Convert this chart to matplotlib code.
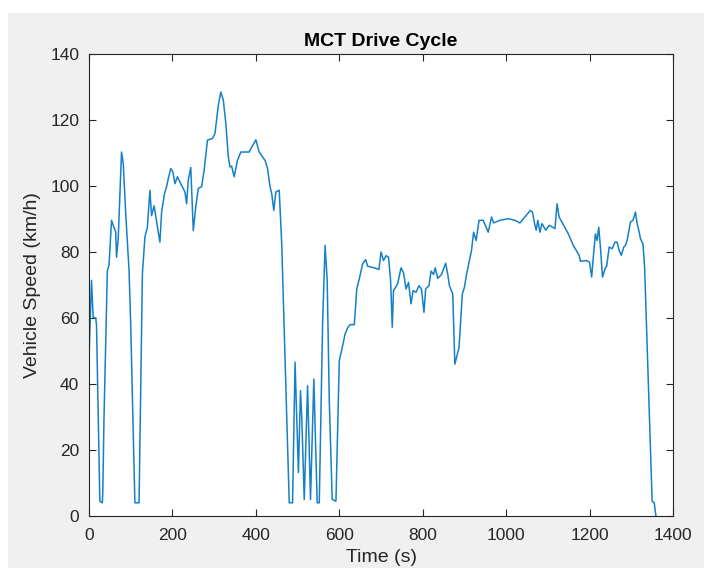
import matplotlib
matplotlib.use("Agg")
import matplotlib.pyplot as plt
from matplotlib.patches import Rectangle

# drive cycle samples (time in s, speed in km/h)
time_s = [0, 6, 10, 16, 18, 26, 32, 33, 36, 44, 48, 54, 64, 66, 70, 78, 82, 88, 96, 100,
          110, 120, 128, 134, 140, 146, 150, 156, 160, 166, 170, 174, 181, 186, 190, 196,
          201, 206, 212, 220, 230, 234, 238, 244, 250, 256, 262, 270, 276, 284, 296, 302,
          310, 316, 322, 328, 334, 338, 342, 348, 356, 364, 384, 388, 400, 408, 416, 422,
          428, 434, 438, 443, 448, 456, 462, 480, 488, 494, 502, 507, 510, 516, 524, 531,
          539, 547, 552, 560, 566, 571, 576, 583, 592, 600, 607, 614, 620, 626, 636, 642,
          648, 656, 663, 668, 684, 695, 700, 706, 712, 718, 723, 727, 730, 735, 740, 748,
          754, 760, 766, 772, 777, 784, 791, 797, 803, 807, 815, 820, 826, 830, 836, 845,
          855, 860, 864, 872, 877, 887, 895, 900, 905, 917, 922, 928, 935, 945, 957, 965,
          970, 985, 1005, 1021, 1033, 1045, 1058, 1063, 1069, 1072, 1076, 1081, 1086, 1095,
          1103, 1117, 1122, 1127, 1138, 1149, 1161, 1175, 1178, 1193, 1200, 1205, 1210,
          1214, 1218, 1222, 1226, 1231, 1238, 1241, 1247, 1254, 1261, 1266, 1271, 1276,
          1282, 1286, 1290, 1298, 1304, 1310, 1314, 1318, 1322, 1328, 1332, 1344, 1350,
          1355, 1359]
speed_kmh = [48, 71.4, 60.2, 60, 58, 4.5, 4, 7, 29.9, 74.4, 76, 89.6, 86, 78.4, 84, 110.3,
             107, 91.7, 74.4, 58, 4, 4, 73.4, 84.5, 87.5, 98.7, 91, 94, 91, 86, 83, 92,
             97.7, 99.8, 102.2, 105.3, 104.3, 100.7, 102.8, 100.7, 98.2, 94.6, 101.8, 105.6,
             86.5, 93.7, 99.3, 99.8, 104.8, 113.9, 114.4, 115.9, 124.5, 128.5, 126, 119,
             108.8, 105.8, 106, 102.8, 107.8, 110.3, 110.3, 111.3, 114, 110.3, 108.8, 107.8,
             105.3, 99.8, 97.7, 92.6, 98.2, 98.7, 82.5, 4, 4, 46.6, 13.2, 38, 30, 5, 39.5,
             5, 41.5, 4, 4, 58.2, 82, 71.4, 35, 5, 4.5, 47, 51, 55.2, 57, 58, 58, 68.8, 71.9,
             76.4, 77.7, 75.7, 75.2, 74.7, 80, 77.4, 78.9, 78.4, 71.4, 57.2, 68.3, 69.3,
             70.4, 75.2, 73.7, 68.8, 70.8, 64.3, 68.3, 67.8, 69.8, 68.8, 61.7, 68.8, 69.8,
             74.2, 73.2, 75.2, 72, 73.2, 76.6, 73.2, 69.8, 67.3, 46, 51, 67.3, 69.3, 73.2,
             80.5, 86, 83.5, 89.6, 89.6, 86, 90.6, 88.8, 89.6, 90.1, 89.6, 88.8, 90.6, 92.6,
             92.1, 88.1, 86.6, 89.6, 86, 88.6, 86.6, 88.1, 87.1, 94.6, 90.6, 88.1, 85.5, 82,
             79, 77.2, 77.4, 76.9, 72.4, 80, 85.5, 83.5, 87.5, 81.5, 72.4, 75.2, 75.7, 81.5,
             81, 83, 83, 80.5, 79, 81.5, 82, 83.5, 89.1, 89.6, 92.1, 88.6, 86.6, 84, 82.5,
             75.2, 27.8, 4.5, 4, 0]

x_ticks = [0, 200, 400, 600, 800, 1000, 1200, 1400]
y_ticks = [0, 20, 40, 60, 80, 100, 120, 140]

plt.rcParams['font.family'] = ['Liberation Sans', 'DejaVu Sans']

fig = plt.figure(figsize=(7.04, 5.68), dpi=100, facecolor='white')
# grey figure window area (white margin at top and left, like the screenshot)
fig.patches.append(Rectangle((8 / 704, 0), 1, 1 - 13 / 568, transform=fig.transFigure,
                             facecolor='#f0f0f0', edgecolor='none', zorder=-10))

ax = fig.add_axes([89 / 704, 52 / 568, 584 / 704, 462 / 568])
ax.plot(time_s, speed_kmh, color='#1580c8', linewidth=1.1)

ax.set_xlim(0, 1400)
ax.set_ylim(0, 140)
ax.set_xticks(x_ticks)
ax.set_yticks(y_ticks)
ax.tick_params(direction='in', length=5, width=0.8, top=True, right=True,
               labelsize=12.5, colors='#262626', pad=7)
ax.tick_params(axis='x', pad=9)
for s in ax.spines.values():
    s.set_color('#262626')
    s.set_linewidth(0.8)

ax.set_title('MCT Drive Cycle', fontsize=14, fontweight='bold', color='black', pad=6)
ax.set_xlabel('Time (s)', fontsize=14, color='#262626', labelpad=4)
ax.set_ylabel('Vehicle Speed (km/h)', fontsize=14, color='#262626', labelpad=7)

fig.savefig('out.png', dpi=100, facecolor=fig.get_facecolor())
